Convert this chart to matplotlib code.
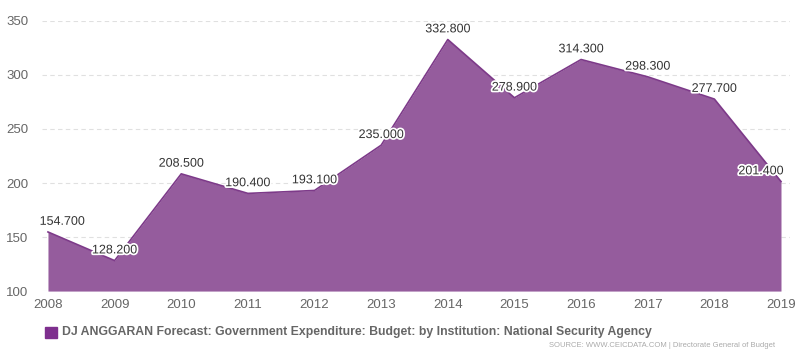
import matplotlib.pyplot as plt
import matplotlib.patheffects as pe
import numpy as np

plt.rcParams['font.family'] = ['Liberation Sans', 'DejaVu Sans']

years = [2008, 2009, 2010, 2011, 2012, 2013, 2014, 2015, 2016, 2017, 2018, 2019]
values = [154.7, 128.2, 208.5, 190.4, 193.1, 235.0, 332.8, 278.9, 314.3, 298.3, 277.7, 201.4]
labels = ['154.700', '128.200', '208.500', '190.400', '193.100', '235.000',
          '332.800', '278.900', '314.300', '298.300', '277.700', '201.400']
y_ticks = [100, 150, 200, 250, 300, 350]

fill_color = '#955c9d'
line_color = '#7d3a89'

fig = plt.figure(figsize=(7.95, 3.49), dpi=100)
ax = fig.add_axes([0.0528, 0.166, 0.9409, 0.774])

ax.fill_between(years, values, 100, color=fill_color, linewidth=0, zorder=2)
ax.plot(years, values, color=line_color, linewidth=1.2, zorder=3)

ax.set_xlim(2008 - 0.09, 2019 + 0.135)
ax.set_ylim(100, 350)
ax.set_yticks(y_ticks)
ax.set_xticks(years)
ax.grid(axis='y', color='#e0e0e0', linestyle=(0, (4, 3)), linewidth=0.8, zorder=1)
for s in ax.spines.values():
    s.set_visible(False)
ax.tick_params(axis='both', length=0, colors='#666666', labelsize=9.5)
ax.tick_params(axis='x', pad=6)
ax.tick_params(axis='y', pad=10)

halo = [pe.withStroke(linewidth=2.5, foreground='white')]
for i, (x, v, t) in enumerate(zip(years, values, labels)):
    ha = 'center'
    dx = 0
    if i == 0:
        ha, dx = 'left', -6
    elif i == len(years) - 1:
        ha, dx = 'right', 2
    ax.annotate(t, (x, v), xytext=(dx, 3), textcoords='offset points',
                ha=ha, va='bottom', fontsize=9, color='#333333',
                path_effects=halo, zorder=5, annotation_clip=False)

# legend
fig.patches.append(plt.Rectangle((45 / 795, 1 - 338 / 349), 12 / 795, 11 / 349,
                                 transform=fig.transFigure, color='#7e2f8e'))
fig.text(62 / 795, 1 - 332.5 / 349,
         'DJ ANGGARAN Forecast: Government Expenditure: Budget: by Institution: National Security Agency',
         ha='left', va='center', fontsize=8.8, fontweight='bold', color='#666666')
fig.text(775 / 795, 1 - 345.5 / 349, 'SOURCE: WWW.CEICDATA.COM | Directorate General of Budget',
         ha='right', va='center', fontsize=5.5, color='#aaaaaa')

fig.savefig('out.png', dpi=100)
